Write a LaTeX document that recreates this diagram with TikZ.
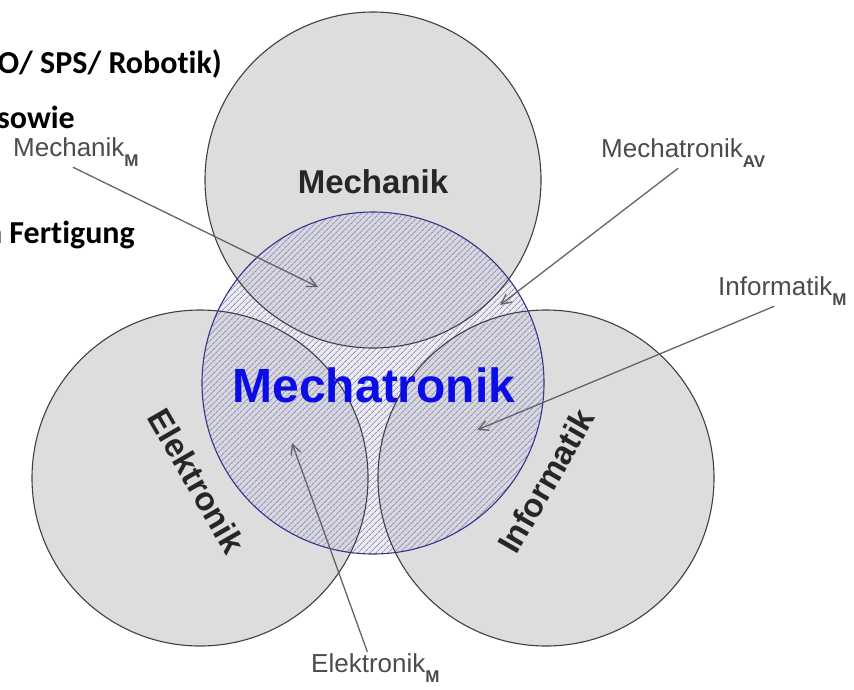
\documentclass[tikz,border=0pt]{standalone}
\usepackage{fontspec}
\setmainfont{Liberation Sans}
\newfontfamily\calibrifont[Ligatures={NoCommon,NoContextual}]{Carlito}
\usetikzlibrary{arrows.meta,patterns.meta}

\definecolor{ringgray}{RGB}{221,221,221}
\definecolor{ringline}{RGB}{64,64,64}
\definecolor{mechablue}{RGB}{12,12,230}
\definecolor{mecharing}{RGB}{52,52,140}
\definecolor{corefill}{RGB}{205,205,240}
\definecolor{hatchgray}{RGB}{150,150,162}
\definecolor{calloutgray}{RGB}{75,75,75}
\definecolor{pointergray}{RGB}{100,100,100}

\newcommand{\lowidx}[1]{\raisebox{-10pt}{\fontsize{17}{17}\selectfont\bfseries #1}}

\tikzset{
  ringfill/.style={fill=ringgray},
  ringedge/.style={draw=ringline,line width=1.1pt},
  field/.style={font=\fontsize{33}{36}\selectfont\bfseries,text=black!85},
  callout/.style={font=\fontsize{26}{30}\selectfont,text=calloutgray,inner sep=1pt},
  pointer/.style={draw=pointergray,line width=1.3pt,-{Straight Barb[length=10pt,width=10pt]}},
  memo/.style={font=\calibrifont\fontsize{32}{36}\selectfont\bfseries,anchor=base east,inner sep=0pt}
}

\begin{document}
\begin{tikzpicture}[x=1pt,y=-1pt]
  \useasboundingbox (0,0) rectangle (854,689);
  % centres of the four circles
  \coordinate (mech) at (373,180);
  \coordinate (elek) at (200,478);
  \coordinate (info) at (546,478);
  \coordinate (core) at (373,383);
  % grey circles, then the hatched core on top
  \foreach \c in {mech,elek,info}
    \fill[ringfill] (\c) circle[radius=168pt];
  \fill[fill=corefill,fill opacity=0.4] (core) circle[radius=171pt];
  \fill[pattern={Lines[angle=45,distance=4pt,line width=1pt]},pattern color=hatchgray]
    (core) circle[radius=171pt];
  \foreach \c in {mech,elek,info}
    \draw[ringedge] (\c) circle[radius=168pt];
  \draw[draw=mecharing,line width=1.1pt] (core) circle[radius=171pt];

  % field names
  \node[field,anchor=base] (mechlbl) at (373,193) {Mechanik};
  \node[field,rotate=-60] (eleklbl) at (197,481) {Elektronik};
  \node[field,rotate=60] (infolbl) at (546,481) {Informatik};
  \node[font=\fontsize{48}{52}\selectfont\bfseries,text=mechablue,anchor=base] (corelbl)
    at (374,402) {Mechatronik};

  % text cut at the left border
  \node[memo] (memoA) at (222,73) {O/ SPS/ Robotik)};
  \node[memo] (memoB) at (75,128) {sowie};
  \node[memo] (memoC) at (135,243) {n Fertigung};

  % callouts
  \node[callout,anchor=base west] (mechM) at (12,156) {Mechanik\lowidx{M}};
  \node[callout,anchor=base west] (mechAV) at (600,157) {Mechatronik\lowidx{AV}};
  \node[callout,anchor=base west] (infoM) at (717,295) {Informatik\lowidx{M}};
  \node[callout,anchor=base west] (elekM) at (310,672) {Elektronik\lowidx{M}};
  \coordinate (mechMtip) at (318,287);
  \coordinate (mechAVtip) at (500,305);
  \coordinate (infoMtip) at (477,430);
  \coordinate (elekMtip) at (292,443);
  \draw[pointer] ([xshift=-3pt]mechM.south) -- (mechMtip);
  \draw[pointer] ([xshift=-5pt]mechAV.south) -- (mechAVtip);
  \draw[pointer] ([xshift=-8pt]infoM.south) -- (infoMtip);
  \draw[pointer] ([xshift=-8pt]elekM.north) -- (elekMtip);
\end{tikzpicture}
\end{document}
